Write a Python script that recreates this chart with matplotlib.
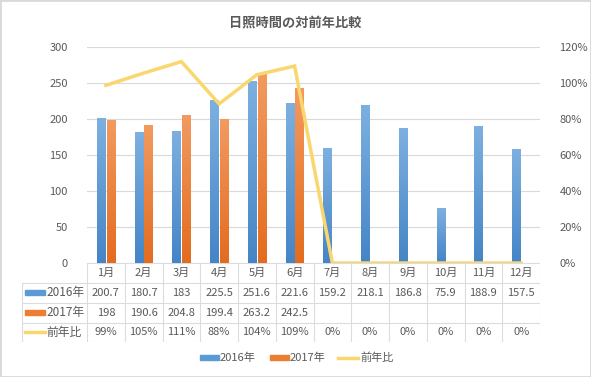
import numpy as np
import matplotlib
matplotlib.use('Agg')
import matplotlib.pyplot as plt
from matplotlib.patches import Rectangle
from matplotlib.colors import LinearSegmentedColormap

plt.rcParams['font.family'] = ['Noto Sans CJK JP', 'DejaVu Sans']

months = ['1月', '2月', '3月', '4月', '5月', '6月', '7月', '8月', '9月', '10月', '11月', '12月']
sun_2016 = [200.7, 180.7, 183, 225.5, 251.6, 221.6, 159.2, 218.1, 186.8, 75.9, 188.9, 157.5]
sun_2017 = [198, 190.6, 204.8, 199.4, 263.2, 242.5]
ratio = [0.987, 1.055, 1.119, 0.884, 1.046, 1.094, 0, 0, 0, 0, 0, 0]
ratio_labels = ['99%', '105%', '111%', '88%', '104%', '109%', '0%', '0%', '0%', '0%', '0%', '0%']

W, H = 591, 377
BLUE = '#5B9BD5'
ORANGE = '#ED7D31'
YELLOW = '#FAD76E'
TXT = '#595959'
GRID = '#D9D9D9'

fig = plt.figure(figsize=(W / 100, H / 100), dpi=100)
fig.patches.append(Rectangle((0, 0), 1, 1, transform=fig.transFigure, fill=False,
                             edgecolor='#D9D9D9', lw=2))

# pixel helpers
def px_axes(x0, y0, x1, y1):
    return fig.add_axes([x0 / W, 1 - y1 / H, (x1 - x0) / W, (y1 - y0) / H])

PL, PR, PT, PB = 87, 540, 47, 263
ax = px_axes(PL, PT, PR, PB)
x = np.arange(len(months))
bw = 0.22

blue_cm = LinearSegmentedColormap.from_list('b', ['#4585C6', '#7DB0E0'])
orange_cm = LinearSegmentedColormap.from_list('o', ['#E46C1E', '#F29A60'])
grad = np.linspace(0, 1, 64).reshape(-1, 1)

def grad_bars(bars, cmap):
    for b in bars:
        x0, y0 = b.get_x(), b.get_y()
        w, h = b.get_width(), b.get_height()
        ax.imshow(grad, cmap=cmap, origin='lower', aspect='auto',
                  extent=[x0, x0 + w, y0, y0 + h], zorder=2)

b1 = ax.bar(x - 0.13, sun_2016, bw, color=BLUE, zorder=2)
b2 = ax.bar(x[:len(sun_2017)] + 0.13, sun_2017, bw, color=ORANGE, zorder=2)
grad_bars(b1, blue_cm)
grad_bars(b2, orange_cm)

ax.set_xlim(-0.5, 11.5)
ax.set_ylim(0, 300)
ax.set_yticks(range(0, 301, 50))
ax.yaxis.grid(True, color=GRID, lw=0.8)
ax.set_axisbelow(True)
ax.set_xticks([])
for s in ax.spines.values():
    s.set_visible(False)
ax.tick_params(axis='y', length=0, labelsize=8, labelcolor=TXT, pad=14)

ax2 = ax.twinx()
ax2.plot(x, ratio, color=YELLOW, lw=2.5, zorder=3, solid_joinstyle='miter')
ax2.set_ylim(0, 1.2)
ax2.set_yticks(np.arange(0, 1.21, 0.2))
ax2.set_yticklabels(['0%', '20%', '40%', '60%', '80%', '100%', '120%'])
ax2.tick_params(axis='y', length=0, labelsize=8, labelcolor=TXT, pad=14)
for s in ax2.spines.values():
    s.set_visible(False)

fig.text(0.5, 1 - 22 / H, '日照時間の対前年比較', ha='center', va='center',
         fontsize=9.5, color=TXT, fontweight='bold')

# data table
TL, TT, TB = 22, 263, 342
tab = px_axes(TL, TT, PR, TB)
tab.set_xlim(TL, PR)
tab.set_ylim(TB, TT)
tab.axis('off')
rows = [263, 283, 302.5, 322.5, 342]
cw = (PR - PL) / 12
cols = [PL + i * cw for i in range(13)]
lc = '#D9DDE3'
# horizontal lines
tab.plot([PL, PR], [rows[0], rows[0]], color=lc, lw=0.8)
for r in rows[1:]:
    tab.plot([TL, PR], [r, r], color=lc, lw=0.8)
for c in cols:
    tab.plot([c, c], [rows[0], rows[-1]], color=lc, lw=0.8)
tab.plot([TL, TL], [rows[1], rows[-1]], color=lc, lw=0.8)

def cy(i):
    return (rows[i] + rows[i + 1]) / 2

for i, m in enumerate(months):
    xc = (cols[i] + cols[i + 1]) / 2
    tab.text(xc, cy(0), m, ha='center', va='center', fontsize=8, color=TXT)
    tab.text(xc, cy(1), f'{sun_2016[i]:g}', ha='center', va='center', fontsize=8, color=TXT)
    if i < len(sun_2017):
        tab.text(xc, cy(2), f'{sun_2017[i]:g}', ha='center', va='center', fontsize=8, color=TXT)
    tab.text(xc, cy(3), ratio_labels[i], ha='center', va='center', fontsize=8, color=TXT)

tab.add_patch(Rectangle((25, cy(1) - 2.5), 20, 5, color=BLUE))
tab.add_patch(Rectangle((25, cy(2) - 2.5), 20, 5, color=ORANGE))
tab.plot([25, 45], [cy(3), cy(3)], color=YELLOW, lw=2.5)
for i, lab in enumerate(['2016年', '2017年', '前年比']):
    tab.text(46, cy(i + 1), lab, ha='left', va='center', fontsize=8.5, color=TXT)

# legend
leg = px_axes(0, 348, W, 368)
leg.set_xlim(0, W)
leg.set_ylim(368, 348)
leg.axis('off')
ly = 358
leg.add_patch(Rectangle((200, ly - 2.5), 19, 5, color=BLUE))
leg.text(220, ly, '2016年', ha='left', va='center', fontsize=8, color=TXT)
leg.add_patch(Rectangle((270, ly - 2.5), 19, 5, color=ORANGE))
leg.text(290, ly, '2017年', ha='left', va='center', fontsize=8, color=TXT)
leg.plot([338, 358], [ly, ly], color=YELLOW, lw=2.5)
leg.text(360, ly, '前年比', ha='left', va='center', fontsize=8, color=TXT)

fig.savefig('out.png', dpi=100)
